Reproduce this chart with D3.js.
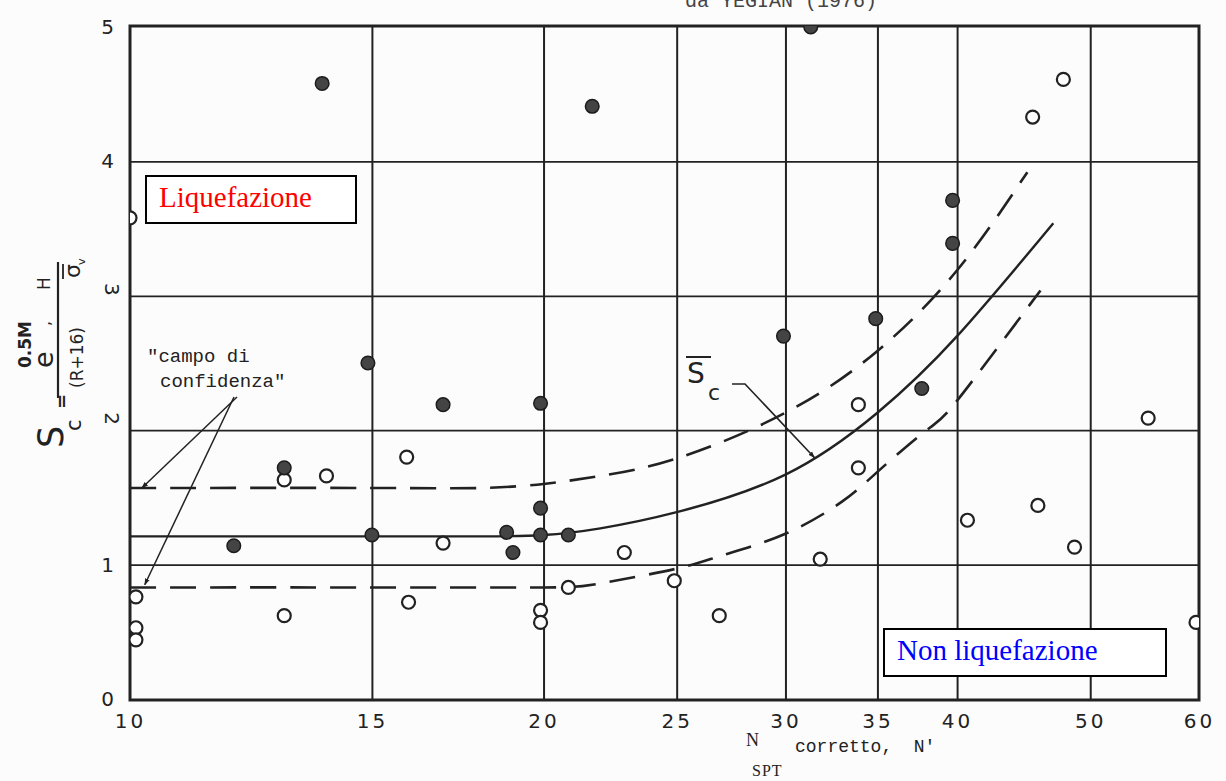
<!DOCTYPE html>
<html>
<head>
<meta charset="utf-8">
<script src="https://cdn.jsdelivr.net/npm/d3@7"></script>
<style>
  body { margin: 0; background: #fcfcfd; }
  svg { display: block; }
</style>
</head>
<body>
<svg width="1226" height="781"></svg>
<script>
var svg = d3.select("svg");

// tick labels
var xTicks = [10, 15, 20, 25, 30, 35, 40, 50, 60];
var yTicks = [0, 1, 2, 3, 4, 5];

// liquefazione (punti pieni) [N', Sc]
var liqN  = [13.8, 21.7, 31.3, 14.9, 16.9, 19.9, 12.95, 11.9, 15.0, 18.8, 19.0, 19.9, 19.9, 20.85, 29.9, 34.9, 37.7, 39.7, 39.7];
var liqSc = [4.58, 4.41, 5.0, 2.50, 2.19, 2.20, 1.72, 1.14, 1.22, 1.24, 1.09, 1.42, 1.22, 1.22, 2.70, 2.83, 2.31, 3.71, 3.39];

// non liquefazione (punti vuoti)
var nonN  = [10.0, 10.1, 10.1, 10.1, 12.95, 12.95, 13.9, 15.9, 15.95, 16.9, 19.9, 19.9, 20.85, 22.9, 24.9, 26.85, 31.8, 33.9, 33.9, 40.7, 45.8, 48.7, 59.7, 55.1, 45.4, 47.8];
var nonSc = [3.58, 0.76, 0.53, 0.44, 0.62, 1.63, 1.66, 1.80, 0.72, 1.16, 0.66, 0.57, 0.83, 1.09, 0.88, 0.62, 1.04, 2.19, 1.72, 1.33, 1.44, 1.13, 0.57, 2.09, 4.33, 4.61];

// curve: media e campo di confidenza
var meanN  = [10, 15, 18, 20, 22, 25, 30, 35, 40, 47];
var meanSc = [1.21, 1.21, 1.21, 1.22, 1.27, 1.39, 1.67, 2.13, 2.70, 3.54];
var upN  = [10, 15, 18, 20, 22, 25, 30, 35, 40, 45];
var upSc = [1.57, 1.57, 1.57, 1.60, 1.66, 1.79, 2.13, 2.59, 3.19, 3.92];
var lowN  = [10, 15, 20, 22, 25, 27, 30, 33, 35, 38, 40, 46];
var lowSc = [0.83, 0.83, 0.83, 0.86, 0.97, 1.07, 1.23, 1.47, 1.69, 2.0, 2.22, 3.04];

var pLeft = 130, pRight = 1199, pTop = 26, pBottom = 700;
var ink = "#222";

var x = d3.scaleLog().domain([10, 60]).range([pLeft, pRight]);
var y = d3.scaleLinear().domain([0, 5]).range([pBottom - 1, pTop + 1]);

var defs = svg.append("defs");
defs.append("clipPath").attr("id", "plot")
  .append("rect")
  .attr("x", pLeft).attr("y", pTop)
  .attr("width", pRight - pLeft).attr("height", pBottom - pTop);

defs.append("marker")
  .attr("id", "arr")
  .attr("viewBox", "0 0 10 10")
  .attr("refX", 9).attr("refY", 5)
  .attr("markerWidth", 7).attr("markerHeight", 7)
  .attr("markerUnits", "userSpaceOnUse")
  .attr("orient", "auto")
  .append("path")
  .attr("d", "M0,1.5 L10,5 L0,8.5 Z")
  .attr("fill", ink);

// titolo tagliato in alto
svg.append("text")
  .attr("x", 685).attr("y", 7)
  .attr("font-family", "Liberation Mono")
  .attr("font-size", 20)
  .attr("fill", "#444")
  .text("da YEGIAN (1976)");

// griglia
svg.append("g")
  .attr("transform", "translate(0," + pBottom + ")")
  .call(d3.axisBottom(x).tickValues(xTicks.slice(1, -1)).tickSize(-(pBottom - pTop)).tickFormat(""))
  .call(function(g) { g.select(".domain").remove(); })
  .selectAll("line").attr("stroke", ink).attr("stroke-width", 2);

svg.append("g")
  .attr("transform", "translate(" + pLeft + ",0)")
  .call(d3.axisLeft(y).tickValues([1, 2, 3, 4]).tickSize(-(pRight - pLeft)).tickFormat(""))
  .call(function(g) { g.select(".domain").remove(); })
  .selectAll("line").attr("stroke", ink).attr("stroke-width", 1.8);

svg.append("rect")
  .attr("x", pLeft).attr("y", pTop)
  .attr("width", pRight - pLeft).attr("height", pBottom - pTop)
  .attr("fill", "none")
  .attr("stroke", ink)
  .attr("stroke-width", 3);

// etichette assi
var xAxis = svg.append("g")
  .attr("transform", "translate(0," + pBottom + ")")
  .call(d3.axisBottom(x).tickValues(xTicks).tickSize(0).tickPadding(14).tickFormat(d3.format("d")));
xAxis.select(".domain").remove();
xAxis.selectAll("text")
  .attr("font-family", "DejaVu Sans")
  .attr("font-size", 20)
  .attr("letter-spacing", 3)
  .attr("fill", ink);

var yAxis = svg.append("g")
  .attr("transform", "translate(" + pLeft + ",0)")
  .call(d3.axisLeft(y).tickValues(yTicks).tickSize(0).tickPadding(16).tickFormat(d3.format("d")));
yAxis.select(".domain").remove();
yAxis.selectAll("text")
  .attr("font-family", "DejaVu Sans")
  .attr("font-size", 20)
  .attr("fill", ink);
// il 2 e il 3 sono ruotati nella scansione
yAxis.selectAll(".tick text")
  .filter(function(d) { return d === 2 || d === 3; })
  .attr("text-anchor", "middle")
  .attr("x", 0)
  .attr("dy", "0.35em")
  .attr("transform", function(d) { return "translate(-18," + (d === 2 ? -12 : -7) + ") rotate(90)"; });

// curve
var plot = svg.append("g").attr("clip-path", "url(#plot)");

function curve(ns, ss) {
  return d3.line()
    .x(function(d) { return x(d[0]); })
    .y(function(d) { return y(d[1]); })
    .curve(d3.curveNatural)(d3.zip(ns, ss));
}

plot.append("path")
  .attr("d", curve(meanN, meanSc))
  .attr("fill", "none").attr("stroke", ink).attr("stroke-width", 2.4);

plot.append("path")
  .attr("d", curve(upN, upSc))
  .attr("fill", "none").attr("stroke", ink).attr("stroke-width", 2.6)
  .attr("stroke-dasharray", "26,14");

plot.append("path")
  .attr("d", curve(lowN, lowSc))
  .attr("fill", "none").attr("stroke", ink).attr("stroke-width", 2.6)
  .attr("stroke-dasharray", "26,14");

// punti
plot.selectAll("circle.non")
  .data(d3.zip(nonN, nonSc))
  .enter().append("circle")
  .attr("class", "non")
  .attr("cx", function(d) { return x(d[0]); })
  .attr("cy", function(d) { return y(d[1]); })
  .attr("r", 6.5)
  .attr("fill", "#fff")
  .attr("stroke", ink)
  .attr("stroke-width", 2.2);

plot.selectAll("circle.liq")
  .data(d3.zip(liqN, liqSc))
  .enter().append("circle")
  .attr("class", "liq")
  .attr("cx", function(d) { return x(d[0]); })
  .attr("cy", function(d) { return y(d[1]); })
  .attr("r", 6.8)
  .attr("fill", "#444")
  .attr("stroke", "#1c1c1c")
  .attr("stroke-width", 1.5);

// campo di confidenza
var mono = "Liberation Mono";
svg.append("text").attr("x", 147).attr("y", 362)
  .attr("font-family", mono).attr("font-size", 19).attr("fill", ink)
  .text("\"campo di");
svg.append("text").attr("x", 160).attr("y", 387)
  .attr("font-family", mono).attr("font-size", 19).attr("fill", ink)
  .text("confidenza\"");

svg.append("line")
  .attr("x1", 237).attr("y1", 397).attr("x2", x(10.2)).attr("y2", y(1.57))
  .attr("stroke", ink).attr("stroke-width", 1.5).attr("marker-end", "url(#arr)");
svg.append("line")
  .attr("x1", 234).attr("y1", 397).attr("x2", x(10.25)).attr("y2", y(0.85))
  .attr("stroke", ink).attr("stroke-width", 1.5).attr("marker-end", "url(#arr)");

// etichetta S_c media
svg.append("text").attr("x", 687).attr("y", 383)
  .attr("font-family", "DejaVu Sans").attr("font-size", 28).attr("fill", ink)
  .text("S");
svg.append("line").attr("x1", 686).attr("x2", 711).attr("y1", 357).attr("y2", 357)
  .attr("stroke", ink).attr("stroke-width", 2);
svg.append("text").attr("x", 708).attr("y", 400)
  .attr("font-family", "DejaVu Sans").attr("font-size", 22).attr("fill", ink)
  .text("c");
svg.append("path")
  .attr("d", "M732,384 L745,384 L" + x(31.5) + "," + (y(1.78) - 2))
  .attr("fill", "none").attr("stroke", ink).attr("stroke-width", 1.6)
  .attr("marker-end", "url(#arr)");

// riquadri
function box(x0, y0, w, h, txt, col) {
  svg.append("rect").attr("x", x0).attr("y", y0).attr("width", w).attr("height", h)
    .attr("fill", "#fff").attr("stroke", "#000").attr("stroke-width", 2);
  svg.append("text").attr("x", x0 + 13).attr("y", y0 + 31)
    .attr("font-family", "Liberation Serif").attr("font-size", 29).attr("fill", col)
    .text(txt);
}
box(146, 176, 210, 47, "Liquefazione", "#f00");
box(884, 629, 282, 47, "Non liquefazione", "#00f");

// asse x titolo
var xl = svg.append("text").attr("y", 746).attr("fill", ink);
xl.append("tspan").attr("x", 746).attr("font-family", "Liberation Serif").attr("font-size", 18).text("N");
xl.append("tspan").attr("x", 752).attr("y", 776).attr("font-family", "Liberation Serif").attr("font-size", 16)
  .attr("letter-spacing", 1).text("SPT");
svg.append("text").attr("x", 795).attr("y", 752)
  .attr("font-family", mono).attr("font-size", 18).attr("fill", ink)
  .attr("xml:space", "preserve")
  .text("corretto,  N'");

// asse y titolo (ruotato): coordinate locali lx = -y, ly = x
var yl = svg.append("g").attr("transform", "rotate(-90)").attr("fill", ink).attr("font-family", "DejaVu Sans");
yl.append("text").attr("x", -448).attr("y", 63).attr("font-size", 35).text("S");
yl.append("text").attr("x", -431).attr("y", 81).attr("font-size", 21).text("c");
yl.append("text").attr("x", -409).attr("y", 68).attr("font-size", 18).attr("font-weight", "bold").text("=");
yl.append("line").attr("x1", -398).attr("x2", -262).attr("y1", 58).attr("y2", 58)
  .attr("stroke", ink).attr("stroke-width", 2.2);
yl.append("text").attr("x", -368).attr("y", 53).attr("font-size", 27).text("e");
yl.append("text").attr("x", -368).attr("y", 31).attr("font-size", 17).attr("font-weight", "bold").text("0.5M");
yl.append("text").attr("x", -326).attr("y", 50).attr("font-size", 16).text(",");
yl.append("text").attr("x", -290).attr("y", 50).attr("font-size", 17).text("H");
yl.append("text").attr("x", -388).attr("y", 83).attr("font-size", 17).text("(R+16)");
yl.append("text").attr("x", -278).attr("y", 80).attr("font-size", 22).text("σ");
yl.append("line").attr("x1", -279).attr("x2", -264).attr("y1", 63).attr("y2", 63)
  .attr("stroke", ink).attr("stroke-width", 1.8);
yl.append("text").attr("x", -265).attr("y", 85).attr("font-size", 11).text("v");
</script>
</body>
</html>
